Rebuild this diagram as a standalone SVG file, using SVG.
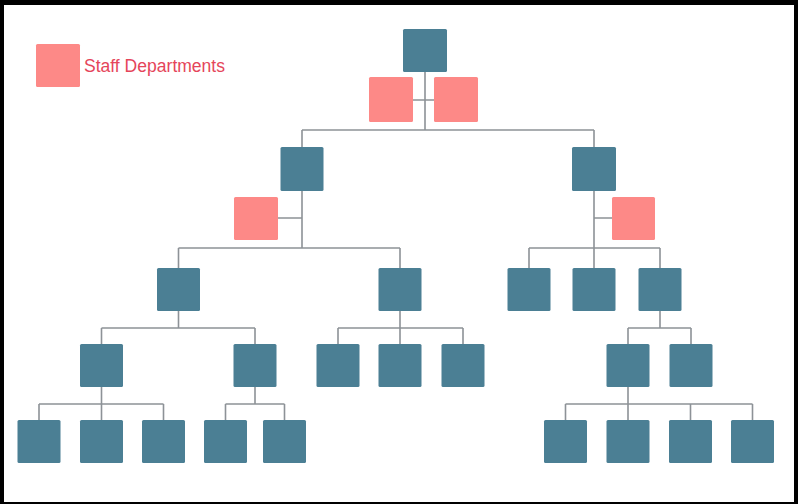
<svg xmlns="http://www.w3.org/2000/svg" width="798" height="504" viewBox="0 0 798 504">
  <style>
    .unit { fill: #4b7f94; }
    .staff { fill: #fd8987; }
    .link { stroke: #8d9297; stroke-width: 1.6; fill: none; }
    .legend-text { font-family: "Liberation Sans", Arial, sans-serif; font-size: 17.5px; fill: #e5455a; }
  </style>

  <!-- frame -->
  <rect x="0" y="0" width="798" height="504" fill="#000"/>
  <rect x="4" y="5" width="790" height="497" fill="#fff"/>

  <!-- legend -->
  <g id="legend">
    <rect class="staff" x="36" y="44" width="44" height="43" rx="1.5"/>
    <text class="legend-text" x="84" y="72" textLength="141" lengthAdjust="spacingAndGlyphs">Staff Departments</text>
  </g>

  <!-- connectors -->
  <g id="connectors">
    <!-- top level -->
    <path class="link" d="M425 72 V130 M413 100 H434 M302 130 H594 M302 130 V147 M594 130 V147"/>
    <!-- left division -->
    <path class="link" d="M302 191 V248 M278 218 H302 M178.5 248 H400 M178.5 248 V268 M400 248 V268"/>
    <!-- right division -->
    <path class="link" d="M594 191 V268 M594 218 H612 M529 248 H660 M529 248 V268 M660 248 V268"/>
    <!-- third level -->
    <path class="link" d="M178.5 311 V328 M101.5 328 H255 M101.5 328 V344 M255 328 V344"/>
    <path class="link" d="M400 311 V344 M338 328 H463 M338 328 V344 M463 328 V344"/>
    <path class="link" d="M660 311 V328 M628 328 H691 M628 328 V344 M691 328 V344"/>
    <!-- fourth level -->
    <path class="link" d="M101.5 387 V420 M39 404 H163.5 M39 404 V420 M163.5 404 V420"/>
    <path class="link" d="M255 387 V404 M225.5 404 H284.5 M225.5 404 V420 M284.5 404 V420"/>
    <path class="link" d="M628 387 V420 M565.5 404 H752.5 M565.5 404 V420 M690.5 404 V420 M752.5 404 V420"/>
  </g>

  <!-- head -->
  <g id="n-top"><rect class="unit" x="403" y="29" width="44" height="43" rx="1.5"/></g>
  <g id="s-top-left"><rect class="staff" x="369" y="77" width="44" height="45" rx="1.5"/></g>
  <g id="s-top-right"><rect class="staff" x="434" y="77" width="44" height="45" rx="1.5"/></g>

  <!-- divisions -->
  <g id="n-div-left"><rect class="unit" x="280.5" y="147" width="43" height="44" rx="1.5"/></g>
  <g id="n-div-right"><rect class="unit" x="572" y="147" width="44" height="44" rx="1.5"/></g>
  <g id="s-div-left"><rect class="staff" x="234" y="197" width="44" height="43" rx="1.5"/></g>
  <g id="s-div-right"><rect class="staff" x="612" y="197" width="43" height="43" rx="1.5"/></g>

  <!-- second level -->
  <g id="n-l2-1"><rect class="unit" x="157" y="268" width="43" height="43" rx="1.5"/></g>
  <g id="n-l2-2"><rect class="unit" x="378.5" y="268" width="43" height="43" rx="1.5"/></g>
  <g id="n-l2-3"><rect class="unit" x="507.5" y="268" width="43" height="43" rx="1.5"/></g>
  <g id="n-l2-4"><rect class="unit" x="572.5" y="268" width="43" height="43" rx="1.5"/></g>
  <g id="n-l2-5"><rect class="unit" x="638.5" y="268" width="43" height="43" rx="1.5"/></g>

  <!-- third level -->
  <g id="n-l3-1"><rect class="unit" x="80" y="344" width="43" height="43" rx="1.5"/></g>
  <g id="n-l3-2"><rect class="unit" x="233.5" y="344" width="43" height="43" rx="1.5"/></g>
  <g id="n-l3-3"><rect class="unit" x="316.5" y="344" width="43" height="43" rx="1.5"/></g>
  <g id="n-l3-4"><rect class="unit" x="378.5" y="344" width="43" height="43" rx="1.5"/></g>
  <g id="n-l3-5"><rect class="unit" x="441.5" y="344" width="43" height="43" rx="1.5"/></g>
  <g id="n-l3-6"><rect class="unit" x="606.5" y="344" width="43" height="43" rx="1.5"/></g>
  <g id="n-l3-7"><rect class="unit" x="669.5" y="344" width="43" height="43" rx="1.5"/></g>

  <!-- fourth level -->
  <g id="n-l4-1"><rect class="unit" x="17.5" y="420" width="43" height="43" rx="1.5"/></g>
  <g id="n-l4-2"><rect class="unit" x="80" y="420" width="43" height="43" rx="1.5"/></g>
  <g id="n-l4-3"><rect class="unit" x="142" y="420" width="43" height="43" rx="1.5"/></g>
  <g id="n-l4-4"><rect class="unit" x="204" y="420" width="43" height="43" rx="1.5"/></g>
  <g id="n-l4-5"><rect class="unit" x="263" y="420" width="43" height="43" rx="1.5"/></g>
  <g id="n-l4-6"><rect class="unit" x="544" y="420" width="43" height="43" rx="1.5"/></g>
  <g id="n-l4-7"><rect class="unit" x="606.5" y="420" width="43" height="43" rx="1.5"/></g>
  <g id="n-l4-8"><rect class="unit" x="669" y="420" width="43" height="43" rx="1.5"/></g>
  <g id="n-l4-9"><rect class="unit" x="731" y="420" width="43" height="43" rx="1.5"/></g>
</svg>
